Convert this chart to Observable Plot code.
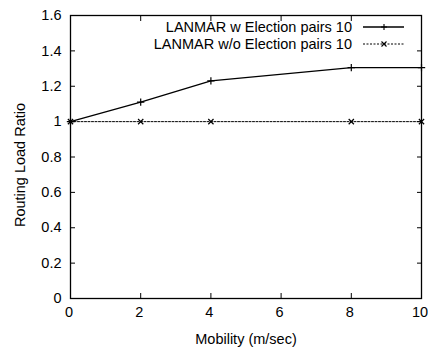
<!DOCTYPE html>
<html>
<head>
<meta charset="utf-8">
<script src="https://cdn.jsdelivr.net/npm/d3@7"></script>
<script src="https://cdn.jsdelivr.net/npm/@observablehq/plot@0.6"></script>
<style>
  html, body { margin: 0; padding: 0; background: #fff; }
  #wrap { position: relative; width: 428px; height: 352px; font-family: "Liberation Sans", Arial, Helvetica, sans-serif; }
  .leg { position: absolute; font-size: 14.5px; line-height: 16px; color: #000; white-space: nowrap; }
  .leg span { position: absolute; right: 0; top: 0; }
  .ylab { position: absolute; left: 20px; top: 165px; transform: translate(-50%, -50%) rotate(-90deg); font-size: 14.5px; white-space: nowrap; }
</style>
</head>
<body>
<div id="wrap"></div>
<script>
const mobility = [0, 2, 4, 8, 10];
const withElection = [1.0, 1.11, 1.23, 1.305, 1.305];
const withoutElection = [1.0, 1.0, 1.0, 1.0, 1.0];
const seriesNames = ["LANMAR w Election pairs 10", "LANMAR w/o Election pairs 10"];
const xTicks = [0, 2, 4, 6, 8, 10];
const yTicks = [0, 0.2, 0.4, 0.6, 0.8, 1, 1.2, 1.4, 1.6];

const s1 = mobility.map((x, i) => ({x, y: withElection[i]}));
const s2 = mobility.map((x, i) => ({x, y: withoutElection[i]}));

const font = "Liberation Sans, Arial, Helvetica, sans-serif";
const chart = Plot.plot({
  width: 428,
  height: 352,
  marginLeft: 70,
  marginRight: 7,
  marginTop: 15,
  marginBottom: 54,
  style: {fontFamily: font, fontSize: "14.5px", background: "#fff", color: "#000"},
  x: {domain: [0, 10]},
  y: {domain: [0, 1.6]},
  marks: [
    Plot.frame({stroke: "#000", strokeWidth: 1.3}),
    Plot.axisX({ticks: xTicks, tickSize: 0, tickPadding: 8, label: null, tickFormat: d => String(d), fontSize: 14.5, textAnchor: "middle", dx: -1.5}),
    Plot.axisX({ticks: xTicks, tickSize: -5, tickFormat: () => "", label: "Mobility (m/sec)", labelAnchor: "center", labelArrow: "none", labelOffset: 45, fontSize: 14.5}),
    Plot.axisX({anchor: "top", ticks: xTicks, tickSize: -5, tickFormat: () => "", label: null}),
    Plot.axisY({ticks: yTicks, tickSize: -5, tickPadding: 14, label: null, tickFormat: d => String(d), fontSize: 14.5}),
    Plot.axisY({anchor: "right", ticks: yTicks, tickSize: -5, tickFormat: () => "", label: null}),
    Plot.line(s2, {x: "x", y: "y", stroke: "#000", strokeWidth: 1, strokeDasharray: "2,1.5"}),
    Plot.dot(s2, {x: "x", y: "y", symbol: "times", r: 2.5, stroke: "#000", strokeWidth: 1.2}),
    Plot.line(s1, {x: "x", y: "y", stroke: "#000", strokeWidth: 1.3}),
    Plot.dot(s1, {x: "x", y: "y", symbol: "plus", r: 2.5, stroke: "#000", strokeWidth: 1.2})
  ]
});
const wrap = document.getElementById("wrap");
wrap.appendChild(chart);

const ylab = document.createElement("div");
ylab.className = "ylab";
ylab.textContent = "Routing Load Ratio";
wrap.appendChild(ylab);

const rows = [
  {name: seriesNames[0], top: 27, dash: null, sym: "plus"},
  {name: seriesNames[1], top: 44, dash: "2,1.5", sym: "times"}
];
rows.forEach(r => {
  const t = document.createElement("div");
  t.className = "leg";
  t.style.left = "0px";
  t.style.width = "352px";
  t.style.top = (r.top - 8) + "px";
  t.style.height = "16px";
  const sp = document.createElement("span");
  sp.textContent = r.name;
  t.appendChild(sp);
  wrap.appendChild(t);
  const ns = "http://www.w3.org/2000/svg";
  const svg = document.createElementNS(ns, "svg");
  svg.setAttribute("width", 44);
  svg.setAttribute("height", 10);
  svg.style.position = "absolute";
  svg.style.left = "362px";
  svg.style.top = (r.top - 5) + "px";
  const ln = document.createElementNS(ns, "line");
  ln.setAttribute("x1", 1); ln.setAttribute("x2", 42);
  ln.setAttribute("y1", 5); ln.setAttribute("y2", 5);
  ln.setAttribute("stroke", "#000");
  ln.setAttribute("stroke-width", r.dash ? 1 : 1.3);
  if (r.dash) ln.setAttribute("stroke-dasharray", r.dash);
  svg.appendChild(ln);
  const p = document.createElementNS(ns, "path");
  p.setAttribute("d", r.sym === "plus" ? "M19,5H25M22,2V8" : "M19.5,2.5L24.5,7.5M24.5,2.5L19.5,7.5");
  p.setAttribute("stroke", "#000");
  p.setAttribute("stroke-width", 1.1);
  svg.appendChild(p);
  wrap.appendChild(svg);
});
</script>
</body>
</html>
